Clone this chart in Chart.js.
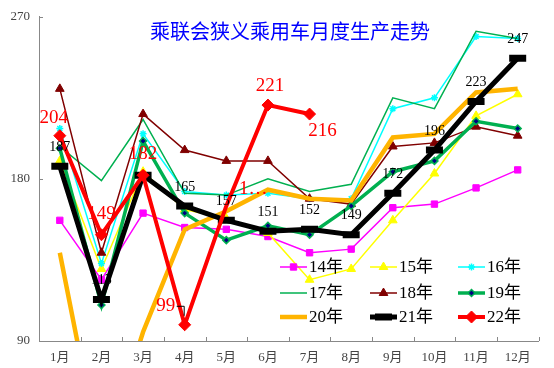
<!DOCTYPE html>
<html>
<head>
<meta charset="utf-8">
<script src="https://cdn.jsdelivr.net/npm/chart.js@4/dist/chart.umd.min.js"></script>
<style>
html, body { margin: 0; padding: 0; background: #fff; }
</style>
</head>
<body>
<canvas id="chart" width="554" height="368"></canvas>
<script>
// chart values (units: 万辆)
var months = ["1月", "2月", "3月", "4月", "5月", "6月", "7月", "8月", "9月", "10月", "11月", "12月"];
var yearNames = ["14年", "15年", "16年", "17年", "18年", "19年", "20年", "21年", "22年"];
var yTicks = [90, 180, 270];

var v14 = [157, 124, 161, 153, 152, 148, 139, 141, 164, 166, 175, 185];
var v15 = [190, 130, 184, 163, 158, 150, 124, 130, 157, 183, 215, 227];
var v16 = [208, 133, 205, 173, 171, 172, 169, 169, 219, 225, 259, 258];
var v17 = [198, 179, 213, 172, 171, 180, 173, 177, 225, 219, 262, 258];
var v18 = [230, 139, 216, 196, 190, 190, 169, 166, 198, 200, 209, 204];
var v19 = [197, 110, 201, 161, 146, 154, 149, 165, 184, 190, 212, 208];
var v20 = [139, 22, 95, 152, 162, 174, 169, 168, 203, 205, 228, 230];
var v21 = [187, 113, 182, 165, 157, 151, 152, 149, 172, 196, 223, 247];
var v22 = [204, 149, 182, 99, 165, 221, 216];

// value labels shown on the chart ("" = hidden behind other marks)
var labels21 = ["187", "113", "", "165", "157", "151", "152", "149", "172", "196", "223", "247"];
var labels22 = ["204", "149", "182", "99", "1…", "221", "216"];

var serif = "'Liberation Serif', 'DejaVu Serif', 'Noto Sans CJK SC', serif";

function series(i, data, color, width, style, radius, extra) {
    var ds = {
        label: yearNames[i],
        data: data,
        borderColor: color,
        backgroundColor: color,
        borderWidth: width,
        pointStyle: style,
        pointRadius: radius,
        pointBorderColor: color,
        pointBackgroundColor: color,
        pointBorderWidth: 1,
        tension: 0,
        order: yearNames.length - i
    };
    for (var k in extra) ds[k] = extra[k];
    return ds;
}

var datasets = [
    series(0, v14, "#FF00FF", 1.5, "rect", 4.5),
    series(1, v15, "#FFFF00", 1.5, "triangle", 5),
    series(2, v16, "#00FFFF", 1.5, "star", 3.5, {pointBorderWidth: 1.5}),
    series(3, v17, "#00B050", 1.5, "circle", 0),
    series(4, v18, "#800000", 1.5, "triangle", 5),
    series(5, v19, "#00B050", 3.5, "rectRot", 3.5, {pointBackgroundColor: "#000080", pointBorderWidth: 1.5}),
    series(6, v20, "#FFB400", 4.5, "circle", 0),
    series(7, v21, "#000000", 5, "line", 8.5, {pointBorderWidth: 7}),
    series(8, v22, "#FF0000", 4, "rectRot", 6, {pointRadius: [6, 6, 6, 6, 0, 6, 6]})
];

// label offsets from the point, px
var off21 = [0, -19];
var off22 = [[-6, -18], [0, -21], [0, -21], [-19, -19], [27, -17], [2, -19], [13, 17]];

var extras = {
    id: "extras",
    afterDatasetsDraw: function (chart) {
        var ctx = chart.ctx;
        var area = chart.chartArea;
        var xs = chart.scales.x, ys = chart.scales.y;

        // inside tick marks
        ctx.save();
        ctx.strokeStyle = "#888";
        ctx.lineWidth = 1;
        ctx.beginPath();
        yTicks.forEach(function (t) {
            var py = Math.round(ys.getPixelForValue(t)) + 0.5;
            ctx.moveTo(area.left, py);
            ctx.lineTo(area.left + 4, py);
        });
        for (var i = 0; i <= months.length; i++) {
            var px = Math.round(xs.getPixelForValue(i - 0.5)) + 0.5;
            ctx.moveTo(px, area.bottom);
            ctx.lineTo(px, area.bottom - 4);
        }
        ctx.stroke();
        ctx.restore();

        // value labels
        ctx.save();
        ctx.textAlign = "center";
        ctx.textBaseline = "middle";
        var m21 = chart.getDatasetMeta(7);
        ctx.font = "14px " + serif;
        ctx.fillStyle = "#000";
        labels21.forEach(function (t, i) {
            if (!t) return;
            var p = m21.data[i];
            ctx.fillText(t, p.x + off21[0], p.y + off21[1]);
        });
        var m22 = chart.getDatasetMeta(8);
        ctx.font = "19px " + serif;
        ctx.fillStyle = "#FF0000";
        labels22.forEach(function (t, i) {
            var p = m22.data[i];
            ctx.fillText(t, p.x + off22[i][0], p.y + off22[i][1]);
        });
        // leader line of the "99" label
        var p4 = m22.data[3];
        ctx.strokeStyle = "#000";
        ctx.lineWidth = 1;
        ctx.beginPath();
        ctx.moveTo(p4.x - 8, p4.y - 18.5);
        ctx.lineTo(p4.x - 0.5, p4.y - 18.5);
        ctx.lineTo(p4.x - 0.5, p4.y - 9);
        ctx.stroke();
        ctx.restore();

        // title
        ctx.save();
        ctx.font = "20px 'Noto Sans CJK SC', sans-serif";
        ctx.fillStyle = "#0000FF";
        ctx.textAlign = "center";
        ctx.textBaseline = "middle";
        ctx.fillText("乘联会狭义乘用车月度生产走势", 290, 31);
        ctx.restore();

        // legend, 3 x 3 inside the plot
        var colX = [280, 370, 458];
        var rowY = [267, 293, 317];
        ctx.save();
        ctx.font = "17px " + serif;
        ctx.textBaseline = "middle";
        chart.data.datasets.forEach(function (ds, i) {
            var x = colX[i % 3], y = rowY[Math.floor(i / 3)];
            ctx.strokeStyle = ds.borderColor;
            ctx.lineWidth = ds.borderWidth;
            ctx.beginPath();
            ctx.moveTo(x, y);
            ctx.lineTo(x + 27, y);
            ctx.stroke();
            var r = Array.isArray(ds.pointRadius) ? ds.pointRadius[0] : ds.pointRadius;
            if (r > 0) {
                ctx.fillStyle = ds.pointBackgroundColor;
                ctx.strokeStyle = ds.pointBorderColor;
                ctx.lineWidth = ds.pointBorderWidth;
                Chart.helpers.drawPoint(ctx, {
                    pointStyle: ds.pointStyle,
                    radius: r,
                    rotation: 0,
                    borderWidth: ds.pointBorderWidth
                }, x + 13.5, y);
            }
            ctx.fillStyle = "#000";
            ctx.fillText(ds.label, x + 29, y + 1);
        });
        ctx.restore();
    }
};

new Chart(document.getElementById("chart"), {
    type: "line",
    data: {labels: months, datasets: datasets},
    options: {
        responsive: false,
        animation: false,
        devicePixelRatio: 1,
        layout: {padding: {top: 15, right: 15, left: 0, bottom: 0}},
        plugins: {legend: {display: false}, tooltip: {enabled: false}, title: {display: false}},
        scales: {
            x: {
                offset: true,
                grid: {display: true, drawOnChartArea: false, drawTicks: false},
                border: {color: "#888", width: 1},
                ticks: {color: "#444", padding: 9, font: {size: 13, family: serif}, maxRotation: 0},
                afterFit: function (s) { s.height = 27; }
            },
            y: {
                min: 90,
                max: 270,
                afterBuildTicks: function (s) { s.ticks = yTicks.map(function (v) { return {value: v}; }); },
                grid: {display: true, drawOnChartArea: false, drawTicks: false},
                border: {color: "#888", width: 1},
                ticks: {color: "#444", padding: 9, font: {size: 13, family: serif}},
                afterFit: function (s) { s.width = 39; }
            }
        }
    },
    plugins: [extras]
});
</script>
</body>
</html>
